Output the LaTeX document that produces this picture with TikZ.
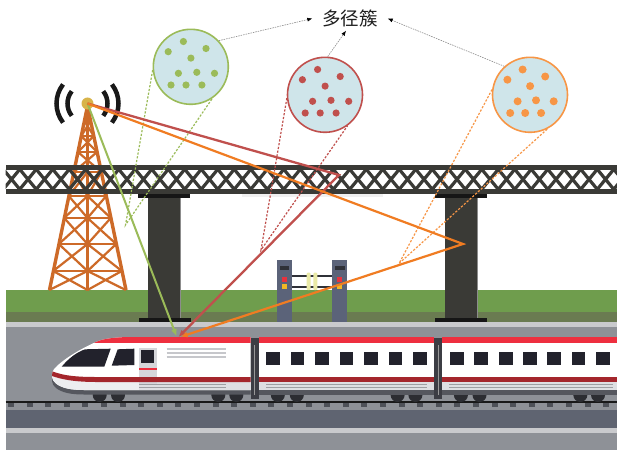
\documentclass[tikz,border=0pt]{standalone}
\usepackage{fontspec}
\newfontfamily\cjkfont{Noto Sans CJK SC}
\usetikzlibrary{arrows.meta,calc}

\definecolor{steel}{HTML}{3A3A36}
\definecolor{capblack}{HTML}{161616}
\definecolor{grass}{HTML}{6F9D4D}
\definecolor{olive}{HTML}{6A7B51}
\definecolor{paving}{HTML}{8E9197}
\definecolor{curb}{HTML}{C9CACD}
\definecolor{slate}{HTML}{5F6471}
\definecolor{sleeper}{HTML}{4E5158}
\definecolor{towerorange}{HTML}{CD6A28}
\definecolor{beacon}{HTML}{D8B44A}
\definecolor{gatepost}{HTML}{5B6379}
\definecolor{gatedark}{HTML}{2F3138}
\definecolor{lampred}{HTML}{E8323E}
\definecolor{lampyellow}{HTML}{F2B824}
\definecolor{paddle}{HTML}{EAEAA8}
\definecolor{roofred}{HTML}{EE2F3F}
\definecolor{stripered}{HTML}{A4262C}
\definecolor{skirt}{HTML}{DEDFE2}
\definecolor{noseskirt}{HTML}{EDEEF0}
\definecolor{ventgray}{HTML}{C6C7CB}
\definecolor{doorgray}{HTML}{D5D6DA}
\definecolor{glass}{HTML}{22222C}
\definecolor{underbody}{HTML}{55575E}
\definecolor{coupler}{HTML}{3C3D44}
\definecolor{wheelblack}{HTML}{2C2D32}
\definecolor{skyblue}{HTML}{CFE5EA}
\definecolor{losgreen}{HTML}{9BBB59}
\definecolor{clusterred}{HTML}{C0504D}
\definecolor{rayorange}{HTML}{F07C22}
\definecolor{clusterorange}{HTML}{F79646}

\tikzset{
  ray/.style={line width=2pt, line join=miter, -{Latex[length=7pt,width=6pt]}},
  cone/.style={line width=1.2pt, dash pattern=on 2.2pt off 1.6pt},
  cluster/.style={circle, draw, line width=1.6pt, fill=skyblue, minimum size=75pt, inner sep=0pt},
  pointer/.style={draw=black!45, line width=0.6pt, dash pattern=on 1.5pt off 1pt, -{Latex[length=5pt,width=4pt,color=black]}},
  wave/.style={draw=black!90, line width=4.5pt},
}

% outline of the leading car
\def\leadcarpath{(250.7,337) -- (128,337) .. controls (112,337.5) and (102,339) .. (96,342)
  .. controls (80,349) and (62,360) .. (54,369) .. controls (51,373) and (51,380) .. (56,383.5)
  .. controls (62,388) and (70,390) .. (84,390) -- (250.7,390) -- cycle}

\begin{document}
\begin{tikzpicture}[x=1pt, y=-1pt]
\useasboundingbox (0,0) rectangle (617,450);
\fill[white] (0,0) rectangle (617,450);

% ---------------- ground, road and track bed
\fill[grass] (5.5,290) rectangle (617,312);
\fill[olive] (5.5,312) rectangle (617,322);
\fill[curb] (5.5,322) rectangle (617,326.5);
\fill[paving] (5.5,326.5) rectangle (617,410);
\fill[slate] (5.5,410) rectangle (617,428.3);
\fill[curb] (5.5,428.3) rectangle (617,432.7);
\fill[paving] (5.5,432.7) rectangle (617,450);

% ---------------- lattice tower
\begin{scope}[towerorange]
  \coordinate (twrTop) at (87.5,106);
  \coordinate (twrL) at (49.5,290);
  \coordinate (twrR) at (126,290);
  \draw[line width=2.8pt] (87.5,112) -- (87.5,290);
  \foreach \ya/\yb/\full in {121/136/1,136/152/1,152/172/1,172/196/0,196/218/0,218/244/0,244/271/0,271/290/0}{
    \pgfmathsetmacro\wa{38.25*(\ya-106)/184}
    \pgfmathsetmacro\wb{38.25*(\yb-106)/184}
    \draw[line width=2.6pt] (87.5-\wa,\ya) -- (87.5+\wa,\ya);
    \ifnum\full=1
      \draw[line width=2.2pt] (87.5-\wa,\ya) -- (87.5+\wb,\yb) (87.5+\wa,\ya) -- (87.5-\wb,\yb);
    \else
      \draw[line width=2.2pt] (87.5-\wa,\ya) -- (87.5,\yb) (87.5,\ya) -- (87.5-\wb,\yb)
                              (87.5+\wa,\ya) -- (87.5,\yb) (87.5,\ya) -- (87.5+\wb,\yb);
    \fi
  }
  \draw[line width=3.4pt, line join=miter] (twrL) -- (twrTop) -- (twrR);
\end{scope}

% antenna and radio waves
\coordinate (ant) at (87.5,103.5);
\draw[wave] (ant) ++(142:20) arc[start angle=142, end angle=218, radius=20];
\draw[wave] (ant) ++(-38:20) arc[start angle=-38, end angle=38, radius=20];
\draw[wave] (ant) ++(142:31) arc[start angle=142, end angle=218, radius=31];
\draw[wave] (ant) ++(-38:31) arc[start angle=-38, end angle=38, radius=31];
\fill[beacon] (ant) circle[radius=6];

% ---------------- bridge piers
\fill[steel] (148,194) rectangle (180,322);
\fill[steel] (445,194) rectangle (477,322);
\draw[black!45, line width=0.8pt] (180,197) -- (180,318) (477,197) -- (477,318);
\fill[capblack] (138,194) rectangle (190,197.7);
\fill[capblack] (435,194) rectangle (487,197.7);
\fill[capblack] (139,318.3) rectangle (191,322);
\fill[capblack] (435,318.3) rectangle (487,322);
\fill[black!6] (242,194.3) rectangle (383,197.3);

% ---------------- truss deck
\begin{scope}
  \clip (5.5,169.3) rectangle (617,189.3);
  \foreach \k in {0,...,37}{
    \pgfmathsetmacro\cx{11.5+16.5*\k}
    \draw[steel, line width=3.2pt] (\cx-8.25,169.3) -- (\cx+8.25,189.3) (\cx+8.25,169.3) -- (\cx-8.25,189.3);
  }
\end{scope}
\fill[steel] (5.5,165) rectangle (617,169.6);
\fill[steel] (5.5,189) rectangle (617,194.3);

% ---------------- turnstile gate
\fill[gatedark] (291.7,275) rectangle (332,277.3);
\fill[gatedark] (291.7,285.7) rectangle (332,287.7);
\fill[paddle, rounded corners=1pt] (306.7,272.7) rectangle (310.7,290);
\fill[paddle, rounded corners=1pt] (313.3,272.7) rectangle (317.3,290);
\foreach \px in {276.7,332}{
  \fill[gatepost] (\px,260) rectangle ++(15,62);
  \fill[gatedark] (\px+3.3,266) rectangle ++(9.3,4);
  \fill[lampred] (\px+5.3,277.3) rectangle ++(4.7,5);
  \fill[lampyellow] (\px+5.3,284) rectangle ++(4.7,4.7);
}

% ---------------- rail and sleepers
\foreach \k in {0,...,32}{
  \fill[sleeper] (8+18.6*\k,402.5) rectangle ++(6,4);
}
\draw[black!90, line width=1.2pt] (5.5,401.9) -- (617,401.9);

% ---------------- train
\foreach \wx in {99.7,118,218.3,236.3,277.8,296.8,397.6,415.4,460.9,479.5,580.3,598}{
  \fill[wheelblack] (\wx,395) circle[radius=7];
}
% couplers
\foreach \cxa/\cxb in {251/258.6,434.2/442}{
  \fill[coupler] (\cxa,338) rectangle (\cxb,399);
  \draw[black!40, line width=0.8pt] ({(\cxa+\cxb)/2},345) -- ({(\cxa+\cxb)/2},395);
}
% leading car
\fill[underbody, shift={(0,4.5)}] \leadcarpath;
\fill[white] \leadcarpath;
\begin{scope}
  \clip \leadcarpath;
  \fill[roofred] (40,330) rectangle (252,343.3);
  \fill[noseskirt] (45,373) .. controls (55,378) and (70,382) .. (96,382) -- (252,382) -- (252,395) -- (45,395) -- cycle;
  \fill[skirt] (139,382) rectangle (252,390);
  \fill[doorgray] (139,347.7) rectangle (156.7,385);
  \fill[glass] (141,350) rectangle (154.3,363.3);
  \draw[roofred, line width=1.2pt] (139,369) -- (156.7,369);
  \fill[stripered] (45,368) .. controls (58,375) and (72,377) .. (96,377) -- (252,377) -- (252,382)
     -- (96,382) .. controls (70,382) and (55,378) .. (45,373) -- cycle;
  \fill[glass] (61.7,366.7) .. controls (68,359) and (76,352.5) .. (85,349.3) -- (110.7,348.7) -- (104.3,366.7) -- cycle;
  \fill[glass] (111.7,365.7) -- (117.7,349.3) -- (134.3,348.7) -- (134.3,365) -- cycle;
  \foreach \vy in {349,353,357}{
    \draw[ventgray, line width=1.3pt] (166.7,\vy) -- (226,\vy);
  }
  \foreach \vy in {384.8,387.5}{
    \draw[ventgray!80!black, line width=0.9pt] (139,\vy) -- (226,\vy);
  }
\end{scope}
% middle and rear cars
\foreach \xa/\xb in {259/434.2,442/620}{
  \fill[underbody] (\xa,388) rectangle (\xb,394.5);
  \fill[white] (\xa,337) rectangle (\xb,390);
  \fill[roofred] (\xa,337) rectangle (\xb,343.3);
  \fill[stripered] (\xa,376.7) rectangle (\xb,381.7);
  \fill[skirt] (\xa,381.7) rectangle (\xb,390);
  \foreach \vy in {384.8,387.5}{
    \draw[ventgray!80!black, line width=0.9pt] (\xa+7,\vy) -- (\xb-7,\vy);
  }
}
\foreach \wx in {266,290.5,315,339.5,364,388.5,413,450,474.4,498.7,523,547.3,571.6,596}{
  \fill[glass] (\wx,351.7) rectangle ++(13.8,13.3);
}

% ---------------- scatterer clusters
\node[cluster, draw=losgreen] (gc) at (190.8,66.8) {};
\node[cluster, draw=clusterred] (rc) at (325,94.8) {};
\node[cluster, draw=clusterorange] (oc) at (530,94.8) {};
\foreach \c/\col/\r in {gc/losgreen/3.6, rc/clusterred/3.6, oc/clusterorange/4.0}{
  \foreach \dx/\dy in {-7.4/-25.3,-22.6/-15.1,15.2/-18.3,0.1/-8.7,-12.4/6.5,6/5.5,23.7/6.5,-19.8/18.2,-4.8/18.2,11.1/18.2}{
    \fill[\col] ($(\c)+(\dx,\dy)$) circle[radius=\r];
  }
}

% cones from each cluster to its interaction point
\coordinate (cG) at (125.5,225);
\coordinate (cR) at (261,250);
\coordinate (cO) at (399,263.5);
\draw[cone, losgreen] (gc.185) -- (cG) -- (gc.304);
\draw[cone, clusterred] (rc.185) -- (cR) -- (rc.306);
\draw[cone, clusterorange] (oc.172) -- (cO) -- (oc.297);

% ---------------- propagation paths
\coordinate (bR) at (339,175);
\coordinate (bO) at (463,244);
\coordinate (tG) at (176.5,336.2);
\coordinate (tR) at (178.5,337);
\coordinate (tO) at (180.5,336.8);
\draw[ray, losgreen] (ant) -- (tG);
\draw[ray, clusterred, line width=2.3pt] (ant) -- (bR) -- (tR);
\draw[ray, rayorange, line width=2.2pt] (ant) -- (bO) -- (tO);

% ---------------- label
\node[inner sep=0pt, minimum width=75pt, minimum height=24pt, text=black!88,
      font=\cjkfont\fontsize{18.5}{20}\selectfont] (lbl) at (350,18.5) {多径簇};
\draw[pointer] (gc.43) -- (lbl.west);
\draw[pointer] (rc.86) -- ([xshift=-4pt]lbl.south);
\draw[pointer] (oc.132) -- (lbl.east);
\end{tikzpicture}
\end{document}
